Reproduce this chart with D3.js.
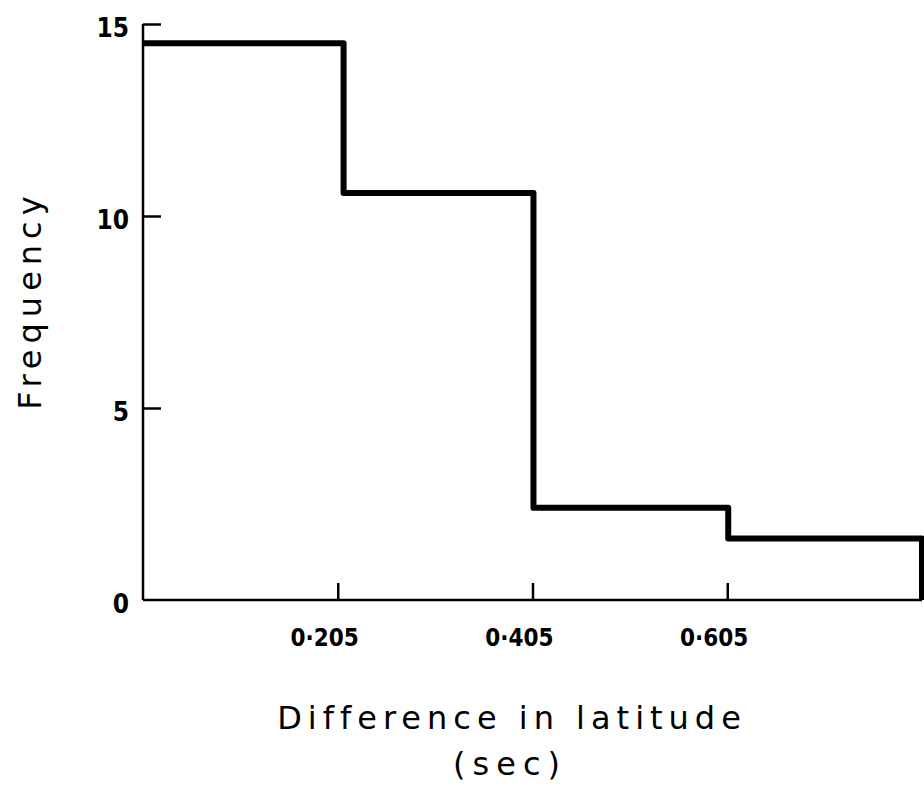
<!DOCTYPE html>
<html>
<head>
<meta charset="utf-8">
<script src="https://cdn.jsdelivr.net/npm/d3@7"></script>
<style>
  body { margin: 0; background: #fff; }
  text { font-family: "DejaVu Sans", sans-serif; fill: #000; }
</style>
</head>
<body>
<script>
// histogram data
var binEdges = [0.005, 0.211, 0.406, 0.606, 0.805];
var frequency = [14.5, 10.6, 2.4, 1.6];
var xTicks = [0.205, 0.405, 0.605];
var xTickLabels = ["0·205", "0·405", "0·605"];
var yTicks = [0, 5, 10, 15];

var svg = d3.select("body").append("svg")
    .attr("width", 924)
    .attr("height", 793);

var x = d3.scaleLinear().domain([0.005, 0.805]).range([143, 922]);
var y = d3.scaleLinear().domain([0, 15]).range([600, 24]);

// axes lines
svg.append("line")
    .attr("x1", x(0.005)).attr("x2", x(0.005))
    .attr("y1", y(0)).attr("y2", y(15))
    .attr("stroke", "#000").attr("stroke-width", 2.5);
svg.append("line")
    .attr("x1", x(0.005)).attr("x2", x(0.805))
    .attr("y1", y(0)).attr("y2", y(0))
    .attr("stroke", "#000").attr("stroke-width", 2.5);

// y ticks point inward
var yAxis = d3.axisRight(y).tickValues(yTicks.slice(1)).tickSize(18).tickFormat("");
svg.append("g")
    .attr("transform", "translate(" + x(0.005) + ",0)")
    .call(yAxis)
    .call(g => g.select(".domain").remove())
    .selectAll("line").attr("stroke-width", 2.5);

svg.append("g").selectAll("text")
    .data(yTicks)
    .join("text")
    .attr("x", 129)
    .attr("y", d => y(d) + 13)
    .attr("text-anchor", "end")
    .style("font-family", "'DejaVu Sans Condensed', 'DejaVu Sans', sans-serif")
    .style("font-size", "26px")
    .style("font-weight", "bold")
    .text(d => d);

// x ticks point upward
var xAxis = d3.axisTop(x).tickValues(xTicks).tickSize(17).tickFormat("");
svg.append("g")
    .attr("transform", "translate(0," + y(0) + ")")
    .call(xAxis)
    .call(g => g.select(".domain").remove())
    .selectAll("line").attr("stroke-width", 2.5);

svg.append("g").selectAll("text")
    .data(xTicks)
    .join("text")
    .attr("x", d => x(d) - 13)
    .attr("y", 646)
    .attr("text-anchor", "middle")
    .style("font-family", "'DejaVu Sans Condensed', 'DejaVu Sans', sans-serif")
    .style("font-size", "24px")
    .style("font-weight", "bold")
    .text((d, i) => xTickLabels[i]);

// step outline of the histogram
var pts = [[binEdges[0], frequency[0]]];
frequency.forEach(function (f, i) {
    pts.push([binEdges[i], f]);
    pts.push([binEdges[i + 1], f]);
});
pts.push([binEdges[binEdges.length - 1], 0]);
var line = d3.line().x(d => x(d[0])).y(d => y(d[1]));
svg.append("path")
    .attr("d", line(pts))
    .attr("fill", "none")
    .attr("stroke", "#000")
    .attr("stroke-width", 6)
    .attr("stroke-linejoin", "round");

// titles
svg.append("text")
    .attr("transform", "translate(41,300) rotate(-90)")
    .attr("text-anchor", "middle")
    .style("font-size", "32px")
    .style("letter-spacing", "6px")
    .text("Frequency");

svg.append("text")
    .attr("x", 512)
    .attr("y", 729)
    .attr("text-anchor", "middle")
    .style("font-size", "32px")
    .style("letter-spacing", "6px")
    .text("Difference in latitude");

svg.append("text")
    .attr("x", 510)
    .attr("y", 775)
    .attr("text-anchor", "middle")
    .style("font-size", "32px")
    .style("letter-spacing", "7px")
    .text("(sec)");
</script>
</body>
</html>
